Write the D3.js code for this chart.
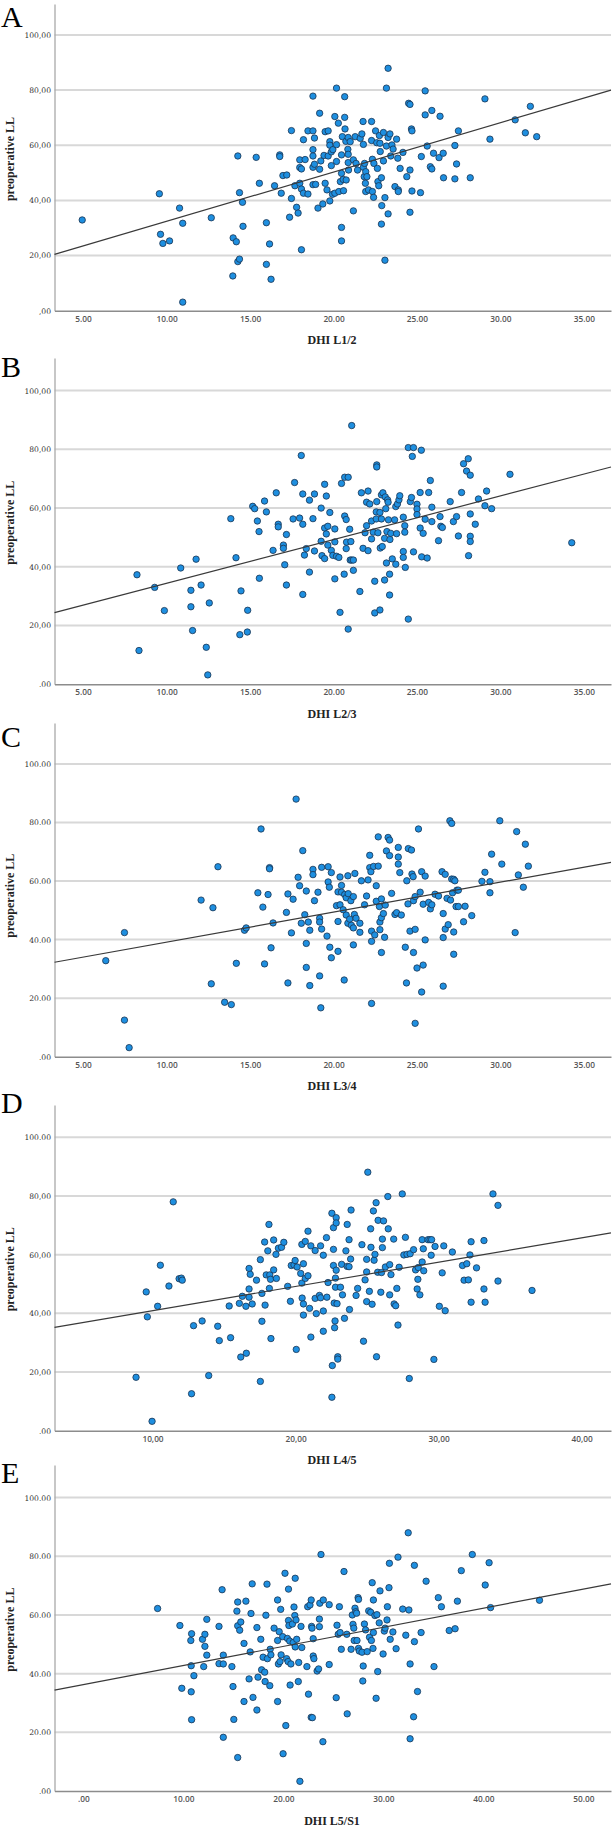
<!DOCTYPE html>
<html><head><meta charset="utf-8">
<script src="https://cdn.jsdelivr.net/npm/d3@7"></script>
<style>body{margin:0;background:#fff}svg{display:block}</style>
</head><body>
<svg id="c" width="613" height="1826"></svg>
<script>
const panelLetters = ["A","B","C","D","E"];
const xTitles = ["DHI L1/2","DHI L2/3","DHI L3/4","DHI L4/5","DHI L5/S1"];
const yTitle = "preoperative LL";
const xDomains = [[3.29,36.62],[3.29,36.62],[3.29,36.62],[3.15,42.05],[-2.88,52.77]];
const yMaxes = [111.2,111.1,114,111,111.1];
const yTickValues = [0,20,40,60,80,100];
const yGridValues = [20,40,60,80,100];
const yTickLabels = [
  [",00","20,00","40,00","60,00","80,00","100,00"],
  [".00","20,00","40,00","60,00","80,00","100,00"],
  [".00","20.00","40.00","60.00","80.00","100.00"],
  [".00","20,00","40,00","60,00","80,00","100.00"],
  [".00","20.00","40.00","60.00","80.00","100.00"]
];
const xTickValues = [
  [5,10,15,20,25,30,35],[5,10,15,20,25,30,35],[5,10,15,20,25,30,35],
  [10,20,30,40],[0,10,20,30,40,50]
];
const xTickLabels = [
  ["5.00","10.00","15.00","20.00","25.00","30.00","35.00"],
  ["5.00","10.00","15.00","20.00","25.00","30.00","35.00"],
  ["5.00","10.00","15.00","20.00","25.00","30.00","35.00"],
  ["10,00","20,00","30,00","40,00"],
  [".00","10.00","20.00","30.00","40.00","50.00"]
];
const fitIntercepts = [14.52,19.49,28.9,32.6,36.26];
const fitSlopes = [1.788,1.488,1.024,0.828,0.651];

const pointsA = [[4.95,32.9],[9.57,42.4],[9.64,27.7],[9.78,24.4],[10.18,25.3],[10.78,37.2],[10.97,31.7],[10.97,3.1],[12.68,33.7],[13.97,12.6],[13.99,26.4],[14.18,25.0],[14.27,56.1],[14.27,17.8],[14.37,18.7],[14.37,42.8],[14.55,39.3],[14.58,30.6],[15.37,55.6],[15.56,46.2],[15.98,31.9],[15.98,16.8],[16.17,24.2],[16.26,11.4],[16.47,45.3],[16.78,56.5],[16.78,55.9],[16.87,42.6],[16.97,49.0],[17.2,49.2],[17.37,33.9],[17.48,65.3],[17.48,40.7],[17.69,45.3],[17.79,37.5],[17.88,35.4],[17.98,54.7],[17.98,51.9],[17.98,46.2],[18.08,51.4],[18.08,44.1],[18.08,22.1],[18.2,62.0],[18.2,42.6],[18.3,54.8],[18.47,65.2],[18.47,42.3],[18.77,77.8],[18.77,65.2],[18.77,58.4],[18.77,56.1],[18.77,52.0],[18.77,45.7],[18.86,62.6],[18.86,53.1],[18.93,45.8],[19.17,71.6],[19.07,37.2],[19.17,51.3],[19.24,54.3],[19.36,38.7],[19.43,56.3],[19.5,64.9],[19.5,46.2],[19.61,43.8],[19.68,65.2],[19.68,56.1],[19.78,61.3],[19.78,60.0],[19.78,39.8],[19.87,57.6],[19.87,52.6],[19.94,42.2],[19.96,58.4],[20.08,70.4],[20.08,42.6],[20.18,80.7],[20.18,60.2],[20.18,54.1],[20.29,68.0],[20.32,43.2],[20.41,46.8],[20.48,56.5],[20.48,49.8],[20.48,30.2],[20.48,25.3],[20.53,63.1],[20.58,47.6],[20.6,43.5],[20.67,77.6],[20.67,70.1],[20.69,65.9],[20.74,61.4],[20.76,47.4],[20.86,58.5],[20.88,62.8],[20.88,56.7],[20.88,53.7],[20.9,51.0],[21.0,61.3],[21.19,54.7],[21.19,36.2],[21.3,63.1],[21.35,53.4],[21.44,51.0],[21.6,62.5],[21.7,64.1],[21.77,68.6],[21.79,60.3],[21.79,52.0],[21.84,48.6],[21.86,53.4],[21.91,46.2],[21.93,43.2],[21.93,50.4],[22.0,48.6],[22.1,43.8],[22.28,68.6],[22.28,61.7],[22.33,54.9],[22.33,43.2],[22.4,41.1],[22.42,53.4],[22.52,65.2],[22.59,60.9],[22.63,51.6],[22.66,46.8],[22.71,45.3],[22.75,63.5],[22.78,60.7],[22.8,57.7],[22.87,48.2],[22.87,31.4],[22.89,38.1],[22.99,64.6],[22.99,54.3],[23.08,41.0],[23.08,18.3],[23.17,80.7],[23.17,59.7],[23.27,87.9],[23.27,62.8],[23.27,35.1],[23.38,64.1],[23.43,56.1],[23.5,60.1],[23.57,58.6],[23.68,45.0],[23.78,62.2],[23.85,55.3],[23.88,43.8],[23.88,43.2],[23.99,51.6],[24.16,57.4],[24.39,48.6],[24.5,75.2],[24.58,74.8],[24.58,51.0],[24.58,35.7],[24.67,65.9],[24.7,65.2],[24.7,43.4],[25.21,42.8],[25.26,55.9],[25.49,79.7],[25.49,71.0],[25.61,59.7],[25.8,52.2],[25.89,72.6],[25.89,51.4],[25.99,57.1],[26.32,55.5],[26.38,70.5],[26.57,57.1],[26.59,48.2],[27.27,59.9],[27.27,47.8],[27.37,53.2],[27.48,65.2],[28.19,48.2],[29.07,76.8],[29.37,62.2],[30.88,69.2],[31.49,64.5],[31.79,74.1],[32.17,63.1]];

const pointsB = [[8.23,37.3],[8.35,11.5],[9.29,33.0],[9.87,25.1],[10.85,39.6],[11.46,32.0],[11.46,26.4],[11.56,18.3],[11.77,42.6],[12.07,33.8],[12.38,12.6],[12.47,3.2],[12.56,27.7],[13.85,56.4],[14.16,43.1],[14.39,16.9],[14.46,31.8],[14.84,17.8],[14.86,25.2],[15.16,60.6],[15.28,59.8],[15.44,55.6],[15.54,52.0],[15.56,36.1],[15.87,62.4],[15.98,58.7],[16.38,45.6],[16.57,65.2],[16.69,54.5],[16.69,53.6],[17.0,47.4],[17.0,46.3],[17.08,40.7],[17.18,51.0],[17.18,33.8],[17.58,56.3],[17.67,68.7],[17.97,56.6],[18.07,77.9],[18.16,64.8],[18.16,54.5],[18.16,30.6],[18.26,44.0],[18.37,46.2],[18.56,62.7],[18.56,38.2],[18.77,56.4],[18.86,64.8],[18.86,45.4],[19.26,60.0],[19.26,48.7],[19.31,43.8],[19.47,53.2],[19.47,42.8],[19.47,68.1],[19.57,64.1],[19.57,51.2],[19.66,47.4],[19.66,53.8],[19.78,58.5],[19.87,45.6],[19.96,43.9],[20.08,52.9],[20.08,48.5],[20.08,35.9],[20.18,43.6],[20.32,43.2],[20.39,24.5],[20.48,68.4],[20.64,37.5],[20.67,57.3],[20.67,70.5],[20.76,56.1],[20.76,46.2],[20.78,48.4],[20.88,70.5],[20.88,18.8],[20.97,52.8],[21.0,42.3],[21.04,48.6],[21.09,88.1],[21.09,42.3],[21.19,42.3],[21.19,38.8],[21.58,31.6],[21.67,65.2],[21.77,46.3],[21.89,51.6],[21.98,54.0],[21.98,62.0],[22.07,65.8],[22.07,45.5],[22.17,61.4],[22.28,55.6],[22.28,49.5],[22.38,51.8],[22.47,35.1],[22.47,24.3],[22.56,58.7],[22.56,56.3],[22.59,62.2],[22.59,74.7],[22.59,74.0],[22.66,51.6],[22.78,25.3],[22.78,58.5],[22.8,46.4],[22.87,64.5],[22.87,56.3],[22.92,46.9],[22.96,65.2],[23.06,35.5],[23.06,49.7],[23.1,63.8],[23.13,59.8],[23.17,41.3],[23.2,52.0],[23.24,62.8],[23.27,62.0],[23.29,56.0],[23.36,30.4],[23.36,37.5],[23.38,49.3],[23.43,51.4],[23.52,42.7],[23.66,56.0],[23.73,40.9],[23.73,60.5],[23.78,51.3],[23.83,61.4],[23.92,62.8],[23.97,64.2],[24.18,56.9],[24.18,45.2],[24.18,43.2],[24.27,54.0],[24.27,51.8],[24.3,39.8],[24.48,22.2],[24.48,80.6],[24.6,62.2],[24.67,63.6],[24.72,77.6],[24.79,80.6],[24.79,45.1],[25.0,61.3],[25.0,59.7],[25.0,57.8],[25.19,53.2],[25.19,65.3],[25.26,79.7],[25.28,43.4],[25.37,51.4],[25.49,56.2],[25.61,43.0],[25.7,65.3],[25.8,69.4],[25.89,60.3],[25.89,55.4],[26.29,48.9],[26.38,57.1],[26.43,53.8],[26.52,53.4],[26.99,62.2],[27.18,55.4],[27.37,57.1],[27.48,50.5],[27.67,65.3],[27.79,75.1],[27.97,72.6],[28.07,76.8],[28.09,43.8],[28.19,71.2],[28.19,58.0],[28.19,50.4],[28.19,48.6],[28.49,54.5],[28.68,63.1],[29.07,60.8],[29.17,65.8],[29.47,59.8],[30.57,71.5],[34.27,48.2]];

const pointsC = [[6.36,32.8],[7.48,42.4],[7.48,12.5],[7.76,3.1],[12.07,53.5],[12.68,24.9],[12.78,50.9],[13.08,64.9],[13.48,18.6],[13.88,17.8],[14.18,31.9],[14.67,43.2],[14.77,44.0],[15.47,56.0],[15.66,77.8],[15.77,51.1],[15.87,31.7],[16.08,55.4],[16.17,64.6],[16.17,64.2],[16.26,37.2],[16.38,45.7],[17.18,49.3],[17.27,55.6],[17.27,25.2],[17.48,42.3],[17.58,53.8],[17.76,88.0],[17.88,61.3],[17.97,58.4],[18.07,45.6],[18.16,70.4],[18.28,48.5],[18.37,56.6],[18.37,38.7],[18.37,30.5],[18.49,46.0],[18.58,43.2],[18.58,24.3],[18.77,64.0],[18.77,62.2],[18.86,53.3],[19.07,56.2],[19.17,27.6],[19.17,47.3],[19.17,46.0],[19.24,16.7],[19.29,43.6],[19.29,64.7],[19.61,41.2],[19.68,64.9],[19.68,59.7],[19.75,57.9],[19.78,37.4],[19.87,62.9],[19.87,33.8],[20.18,51.6],[20.27,56.3],[20.27,46.2],[20.27,36.0],[20.39,61.4],[20.39,51.9],[20.48,58.5],[20.48,56.2],[20.58,50.2],[20.64,26.2],[20.67,55.4],[20.76,54.3],[20.76,48.4],[20.86,61.8],[20.86,45.6],[20.88,55.7],[20.97,47.0],[21.04,53.3],[21.07,44.9],[21.19,54.7],[21.19,38.2],[21.19,44.0],[21.25,48.6],[21.28,62.6],[21.35,47.3],[21.58,45.6],[21.58,42.5],[21.67,60.1],[21.86,51.9],[21.98,54.9],[22.07,60.4],[22.17,68.8],[22.17,64.6],[22.24,63.2],[22.28,42.9],[22.28,39.4],[22.28,18.2],[22.4,65.0],[22.47,41.6],[22.56,58.4],[22.56,53.1],[22.68,75.1],[22.68,65.1],[22.75,51.3],[22.78,46.0],[22.78,43.4],[22.87,53.9],[22.87,47.5],[22.87,35.6],[22.99,48.9],[23.06,40.8],[23.1,51.8],[23.17,70.3],[23.27,74.9],[23.36,68.7],[23.36,74.0],[23.48,55.8],[23.68,48.6],[23.78,49.2],[23.88,71.5],[23.88,68.2],[23.88,65.8],[23.97,62.9],[24.06,48.4],[24.3,37.4],[24.37,25.2],[24.39,60.1],[24.46,52.2],[24.48,71.1],[24.58,42.9],[24.67,70.6],[24.7,62.4],[24.77,61.5],[24.79,53.3],[24.79,35.6],[24.89,54.7],[24.89,11.4],[24.89,43.5],[25.0,30.3],[25.09,77.8],[25.19,56.2],[25.28,63.2],[25.28,22.1],[25.37,52.1],[25.37,31.3],[25.49,61.7],[25.49,39.9],[25.7,52.7],[25.8,50.5],[25.89,51.9],[26.08,55.5],[26.29,54.9],[26.5,63.2],[26.57,48.9],[26.57,40.7],[26.57,24.1],[26.69,43.6],[26.69,62.3],[26.8,54.1],[26.87,45.1],[26.97,80.6],[27.01,53.5],[27.08,79.7],[27.08,60.7],[27.13,56.0],[27.2,60.6],[27.2,35.0],[27.2,42.6],[27.27,60.1],[27.34,51.3],[27.39,56.9],[27.48,56.9],[27.48,51.3],[27.79,46.1],[27.88,51.4],[28.28,48.2],[28.89,59.9],[29.07,63.0],[29.37,56.0],[29.37,59.8],[29.47,69.2],[29.96,80.6],[30.08,65.8],[30.88,42.4],[30.97,76.9],[31.07,62.1],[31.37,57.9],[31.49,72.6],[31.67,65.1]];

const pointsD = [[8.85,18.2],[9.56,47.3],[9.64,38.8],[9.97,3.2],[10.36,42.4],[10.55,56.4],[11.15,49.3],[11.45,78.0],[11.86,51.8],[12.02,52.0],[12.08,51.3],[12.73,12.6],[12.87,35.8],[13.47,37.4],[13.93,18.8],[14.56,35.6],[14.67,30.7],[15.36,42.5],[15.46,31.7],[16.07,43.4],[16.17,25.1],[16.28,45.8],[16.53,42.4],[16.56,26.4],[16.75,55.3],[16.75,48.3],[16.75,45.5],[16.83,53.3],[16.97,43.2],[17.27,51.3],[17.54,58.3],[17.54,16.8],[17.65,46.8],[17.65,37.3],[17.84,64.3],[17.87,42.8],[17.95,53.1],[18.06,61.3],[18.14,70.3],[18.17,48.5],[18.2,53.1],[18.25,51.6],[18.28,31.4],[18.47,54.8],[18.47,65.0],[18.63,60.1],[18.66,51.9],[18.8,62.2],[19.02,62.5],[19.18,64.2],[19.45,49.2],[19.64,44.1],[19.7,56.3],[19.89,56.5],[19.97,58.0],[20.05,27.7],[20.11,55.8],[20.36,53.6],[20.44,63.5],[20.44,50.3],[20.46,45.2],[20.55,56.9],[20.55,43.2],[20.55,39.4],[20.68,64.5],[20.68,51.9],[20.87,68.0],[20.87,52.8],[20.98,41.7],[21.07,63.0],[21.07,31.9],[21.37,61.4],[21.37,45.1],[21.45,39.9],[21.67,46.1],[21.75,63.0],[21.75,45.3],[21.94,59.8],[21.94,40.8],[21.94,33.9],[22.16,65.8],[22.19,45.5],[22.27,50.5],[22.54,74.1],[22.54,11.4],[22.57,22.2],[22.65,69.2],[22.65,61.8],[22.65,56.3],[22.7,43.5],[22.73,35.1],[22.76,37.4],[22.79,52.0],[22.79,48.9],[22.84,72.6],[22.84,70.8],[22.84,54.7],[22.9,43.3],[22.95,25.2],[22.95,24.4],[23.14,48.9],[23.22,56.7],[23.28,46.3],[23.42,38.3],[23.52,61.3],[23.61,70.3],[23.61,56.0],[23.74,65.1],[23.74,55.9],[23.77,41.3],[23.85,58.5],[23.88,75.2],[24.23,46.1],[24.34,48.5],[24.64,63.4],[24.75,30.5],[24.86,51.4],[24.97,58.4],[24.97,54.1],[24.97,44.0],[25.05,88.1],[25.16,47.5],[25.25,68.8],[25.27,62.5],[25.35,43.1],[25.44,74.9],[25.49,58.1],[25.55,60.1],[25.63,77.7],[25.66,25.2],[25.74,54.0],[25.77,71.7],[25.96,47.2],[26.01,53.9],[26.07,65.3],[26.07,62.4],[26.15,71.5],[26.28,55.8],[26.45,79.8],[26.48,68.8],[26.58,56.6],[26.58,46.3],[26.67,53.2],[26.86,65.3],[26.89,43.2],[27.0,42.6],[27.08,48.5],[27.16,36.0],[27.24,55.7],[27.46,80.7],[27.57,59.9],[27.68,65.9],[27.79,60.1],[27.95,17.8],[28.01,60.3],[28.25,61.7],[28.39,54.8],[28.5,48.3],[28.55,51.6],[28.58,55.6],[28.69,46.3],[28.85,65.1],[28.85,57.5],[28.93,62.0],[28.96,54.5],[29.26,65.1],[29.4,65.1],[29.51,65.1],[29.48,59.8],[29.67,24.3],[29.75,62.8],[30.05,42.4],[30.25,53.8],[30.36,63.0],[30.46,40.9],[30.96,60.9],[31.67,56.3],[31.78,51.3],[31.97,56.9],[32.08,51.4],[32.19,59.9],[32.27,64.4],[32.27,43.8],[32.65,55.5],[33.17,64.8],[33.17,48.3],[33.25,43.8],[33.8,80.7],[34.15,76.8],[34.15,51.0],[36.53,47.8]];

const pointsE = [[7.43,62.2],[9.66,56.4],[9.85,35.0],[10.75,51.3],[10.79,42.7],[10.79,33.8],[10.83,53.6],[10.83,24.3],[11.06,39.3],[11.92,51.7],[12.04,42.4],[12.16,53.4],[12.16,49.3],[12.35,46.3],[12.35,58.5],[13.57,56.1],[13.57,43.4],[13.88,68.6],[14.0,43.3],[14.0,18.3],[14.0,46.3],[14.86,42.4],[14.97,35.6],[15.05,24.4],[15.36,61.3],[15.44,64.4],[15.44,56.3],[15.44,11.4],[15.64,54.8],[15.75,57.6],[16.07,50.3],[16.07,30.5],[16.26,64.7],[16.58,38.2],[16.69,47.4],[16.77,60.5],[16.89,70.6],[16.97,31.9],[17.36,55.7],[17.36,27.6],[17.47,38.8],[17.75,51.7],[17.83,41.3],[17.98,45.6],[18.14,40.5],[18.18,37.3],[18.26,59.9],[18.37,70.5],[18.41,45.1],[18.65,35.9],[18.69,48.3],[18.76,46.4],[19.08,55.5],[19.43,65.1],[19.43,30.5],[19.43,51.3],[19.51,43.3],[19.59,54.3],[19.67,44.1],[19.74,61.9],[19.78,46.4],[19.94,52.6],[19.98,12.7],[20.17,74.2],[20.25,22.3],[20.33,45.1],[20.41,52.0],[20.48,44.1],[20.52,68.8],[20.52,58.1],[20.56,56.4],[20.64,51.1],[20.68,36.1],[20.76,43.3],[20.91,56.9],[20.99,50.6],[21.07,62.7],[21.15,59.8],[21.19,72.5],[21.19,49.1],[21.27,58.3],[21.34,51.7],[21.5,37.3],[21.54,43.8],[21.66,3.3],[21.77,56.1],[21.85,48.9],[22.36,42.4],[22.44,62.8],[22.52,33.0],[22.67,63.4],[22.79,65.1],[22.79,25.1],[22.83,56.1],[22.87,55.5],[22.91,25.0],[22.99,51.9],[22.99,46.0],[23.06,45.1],[23.38,40.9],[23.53,41.6],[23.61,58.6],[23.61,56.0],[23.65,64.0],[23.77,80.6],[24.0,65.1],[23.96,16.8],[24.59,63.5],[24.59,43.1],[25.29,31.8],[25.37,56.5],[25.49,53.4],[25.61,62.8],[25.68,54.0],[25.8,48.3],[26.07,74.8],[26.35,53.4],[26.39,26.3],[26.78,48.3],[26.9,60.0],[26.97,56.8],[27.05,55.5],[27.09,51.3],[27.17,62.3],[27.25,61.1],[27.33,60.6],[27.37,51.3],[27.48,65.9],[27.52,65.3],[27.52,48.6],[27.6,47.7],[27.87,47.3],[27.95,37.5],[27.99,42.6],[28.11,56.9],[28.23,54.9],[28.39,47.5],[28.54,61.4],[28.62,52.4],[28.74,60.9],[28.81,51.3],[28.89,71.0],[28.97,48.6],[29.01,54.0],[29.01,65.1],[29.16,59.8],[29.28,31.6],[29.36,60.1],[29.44,40.7],[29.59,57.3],[29.67,68.2],[29.98,46.7],[30.1,54.5],[30.18,55.5],[30.37,58.3],[30.41,62.8],[30.57,69.3],[30.61,77.6],[30.69,51.7],[30.96,54.2],[31.28,48.5],[31.47,79.7],[31.94,62.0],[32.25,53.1],[32.49,88.0],[32.56,61.7],[32.68,43.3],[32.68,17.8],[33.03,25.3],[33.11,76.9],[33.11,50.9],[33.42,33.9],[33.78,54.0],[34.28,71.5],[35.07,42.4],[35.5,65.9],[35.81,62.8],[36.59,54.7],[37.18,55.3],[37.41,64.7],[37.8,75.1],[38.9,80.6],[40.19,70.2],[40.58,77.8],[40.73,62.5],[45.62,65.0]];

const allPoints = [pointsA,pointsB,pointsC,pointsD,pointsE];

// layout (pixels)
const layout = [
  {left:54.5,right:611,top:4,bottom:310.7,letterY:27},
  {left:54.5,right:611,top:358,bottom:684.3,letterY:377},
  {left:54.5,right:611,top:723,bottom:1056.7,letterY:747},
  {left:54.5,right:611,top:1105,bottom:1430.7,letterY:1113},
  {left:54.5,right:611,top:1465,bottom:1791,letterY:1483}
];

const svg = d3.select("#c");
svg.append("rect").attr("width",613).attr("height",1826).attr("fill","#fff");

panelLetters.forEach((letter,i)=>{
  const L = layout[i];
  const x = d3.scaleLinear().domain(xDomains[i]).range([L.left,L.right]);
  const y = d3.scaleLinear().domain([0,yMaxes[i]]).range([L.bottom,L.top]);
  const g = svg.append("g");

  g.selectAll("line.grid").data(yGridValues).join("line").attr("class","grid")
    .attr("x1",L.left).attr("x2",L.right)
    .attr("y1",d=>y(d)).attr("y2",d=>y(d))
    .attr("stroke","#d8d8d8").attr("stroke-width",2);

  const ya = g.append("g").attr("transform",`translate(${L.left},0)`)
    .call(d3.axisLeft(y).tickValues(yTickValues).tickFormat((d,j)=>yTickLabels[i][j]).tickSize(0).tickPadding(3.5));
  ya.select(".domain").attr("stroke","#a9a9a9").attr("stroke-width",1.3);
  ya.selectAll("text").attr("font-family","'DejaVu Serif', serif").attr("font-size",7.6)
    .attr("fill","#333");

  const xa = g.append("g").attr("transform",`translate(0,${L.bottom})`)
    .call(d3.axisBottom(x).tickValues(xTickValues[i]).tickFormat((d,j)=>xTickLabels[i][j]).tickSize(0).tickPadding(5));
  xa.select(".domain").attr("stroke","#8c8c8c").attr("stroke-width",1.6);
  xa.selectAll("text").attr("font-family","'Open Sans', sans-serif").attr("font-size",8.3)
    .attr("font-weight",600).attr("fill","#555");

  g.append("g").selectAll("circle").data(allPoints[i]).join("circle")
    .attr("cx",d=>x(d[0])).attr("cy",d=>y(d[1])).attr("r",3.2)
    .attr("fill","#1e8fe0").attr("stroke","#1a3450").attr("stroke-width",0.8);

  const xd = xDomains[i];
  g.append("line")
    .attr("x1",x(xd[0])).attr("y1",y(fitIntercepts[i]+fitSlopes[i]*xd[0]))
    .attr("x2",x(xd[1])).attr("y2",y(fitIntercepts[i]+fitSlopes[i]*xd[1]))
    .attr("stroke","#3a3a3a").attr("stroke-width",1.2);

  g.append("text").attr("transform",`translate(13.5,${y(55)}) rotate(-90)`)
    .attr("text-anchor","middle").attr("font-family","'Liberation Serif', serif")
    .attr("font-weight","bold").attr("font-size",12).attr("fill","#222").text(yTitle);

  g.append("text").attr("x",332).attr("y",L.bottom+33.5).attr("text-anchor","middle")
    .attr("font-family","'Liberation Serif', serif").attr("font-weight","bold")
    .attr("font-size",12).attr("fill","#222").text(xTitles[i]);

  svg.append("text").attr("x",1).attr("y",L.letterY)
    .attr("font-family","'Liberation Serif', serif").attr("font-size",30)
    .attr("fill","#000").text(letter);
});
</script>
</body></html>
